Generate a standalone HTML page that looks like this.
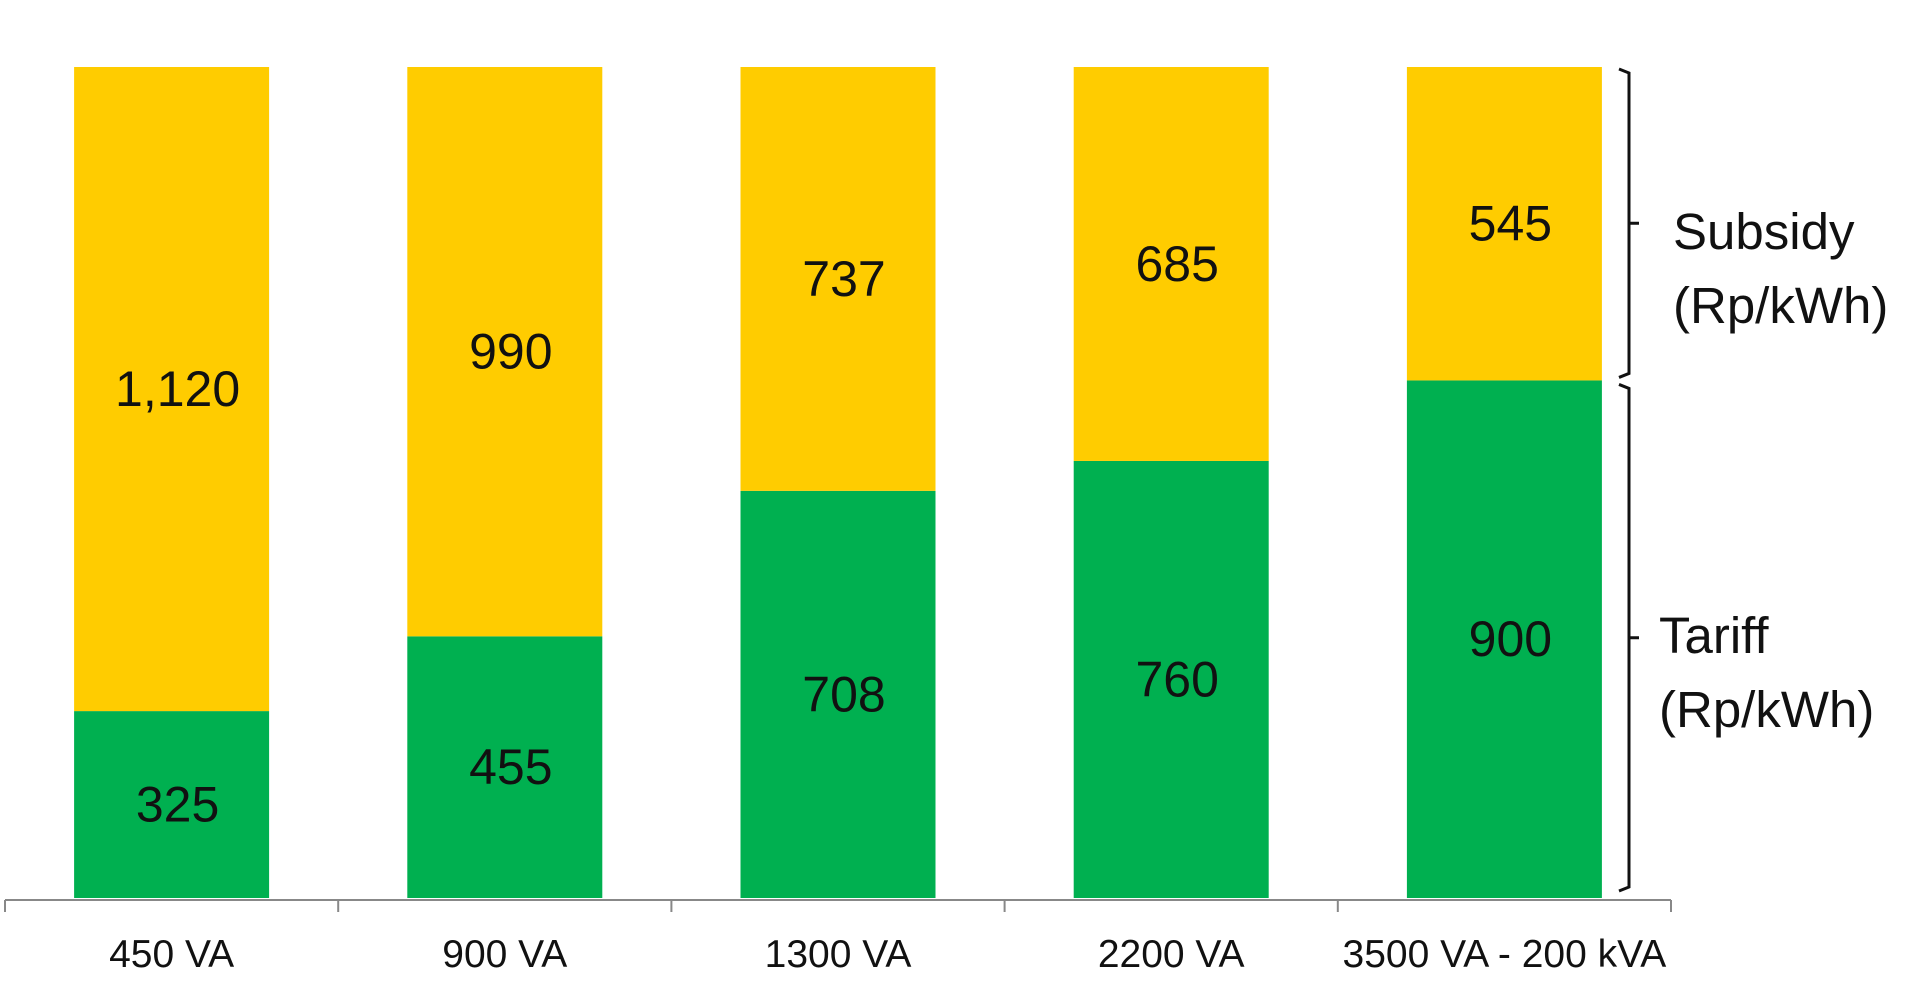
<!DOCTYPE html>
<html><head><meta charset="utf-8"><style>
html,body{margin:0;padding:0;background:#fff;}
svg{display:block;}
text{font-family:"Liberation Sans",sans-serif;fill:#111;}
</style></head><body>
<svg id="chart" width="1920" height="1001" viewBox="0 0 1920 1001" xmlns="http://www.w3.org/2000/svg">
<g id="bars"></g>
<g id="xaxis"></g>
<g id="annot"></g>
</svg>
<script>
const categories = ["450 VA","900 VA","1300 VA","2200 VA","3500 VA - 200 kVA"];
const tariff = [325,455,708,760,900];
const subsidy = [1120,990,737,685,545];
const tariffLabels = ["325","455","708","760","900"];
const subsidyLabels = ["1,120","990","737","685","545"];

const NS="http://www.w3.org/2000/svg";
const plotL=5, plotR=1671, baseY=898, axisY=900, yMax=1445, plotTop=67;
const band=(plotR-plotL)/categories.length;
const barW=195;
function xC(i){return plotL+band*(i+0.5);}
function y(v){return baseY-(v/yMax)*(baseY-plotTop);}
function mk(tag,attrs,parent){const e=document.createElementNS(NS,tag);for(const k in attrs)e.setAttribute(k,attrs[k]);parent.appendChild(e);return e;}
const gb=document.getElementById('bars');
categories.forEach((c,i)=>{
  const x0=xC(i)-barW/2;
  const t=tariff[i], s=subsidy[i];
  const r1=mk('rect',{x:x0,y:y(t),width:barW,height:baseY-y(t),fill:'#00B050'},gb);
  
  
  const r2=mk('rect',{x:x0,y:y(t+s),width:barW,height:y(t)-y(t+s),fill:'#FFCC00'},gb);
  
  
  const l1=mk('text',{x:xC(i)+6,y:(y(t)+baseY)/2+17,'text-anchor':'middle','font-size':50},gb);
  l1.textContent=tariffLabels[i];
  
  
  const l2=mk('text',{x:xC(i)+6,y:(y(t+s)+y(t))/2+17,'text-anchor':'middle','font-size':50},gb);
  l2.textContent=subsidyLabels[i];
  
  
});
const gx=document.getElementById('xaxis');
const al=mk('line',{x1:plotL,x2:plotR,y1:axisY,y2:axisY,stroke:'#888','stroke-width':2},gx);


for(let i=0;i<=categories.length;i++){
  const tx=plotL+band*i;
  const tk=mk('line',{x1:tx,x2:tx,y1:axisY,y2:axisY+12,stroke:'#888','stroke-width':2},gx);
  
  
}
categories.forEach((c,i)=>{
  const t=mk('text',{x:xC(i),y:967,'text-anchor':'middle','font-size':39},gx);
  t.textContent=c;
  
  
});
const ga=document.getElementById('annot');
function brace(yTop,yBot,name){
  const bx=1629, mid=(yTop+yBot)/2;
  const p=mk('path',{d:`M${bx-10} ${yTop} L${bx} ${yTop+4} L${bx} ${yBot-4} L${bx-10} ${yBot} M${bx} ${mid} L${bx+10} ${mid}`,fill:'none',stroke:'#111','stroke-width':3},ga);
  
  
}
brace(y(tariff[4]+subsidy[4])+2,y(tariff[4])-3,'subsidy-brace');
brace(y(tariff[4])+4,baseY-7,'tariff-brace');
function lbl(x,y1,l1,l2,name){
  const t=mk('text',{x:x,y:y1,'font-size':51},ga);
  
  
  const a=mk('tspan',{x:x,dy:0},t);a.textContent=l1;
  const b=mk('tspan',{x:x,dy:74},t);b.textContent=l2;
}
lbl(1673,249,'Subsidy','(Rp/kWh)','subsidy-legend-label');
lbl(1659,653,'Tariff','(Rp/kWh)','tariff-legend-label');
</script>
</body></html>
